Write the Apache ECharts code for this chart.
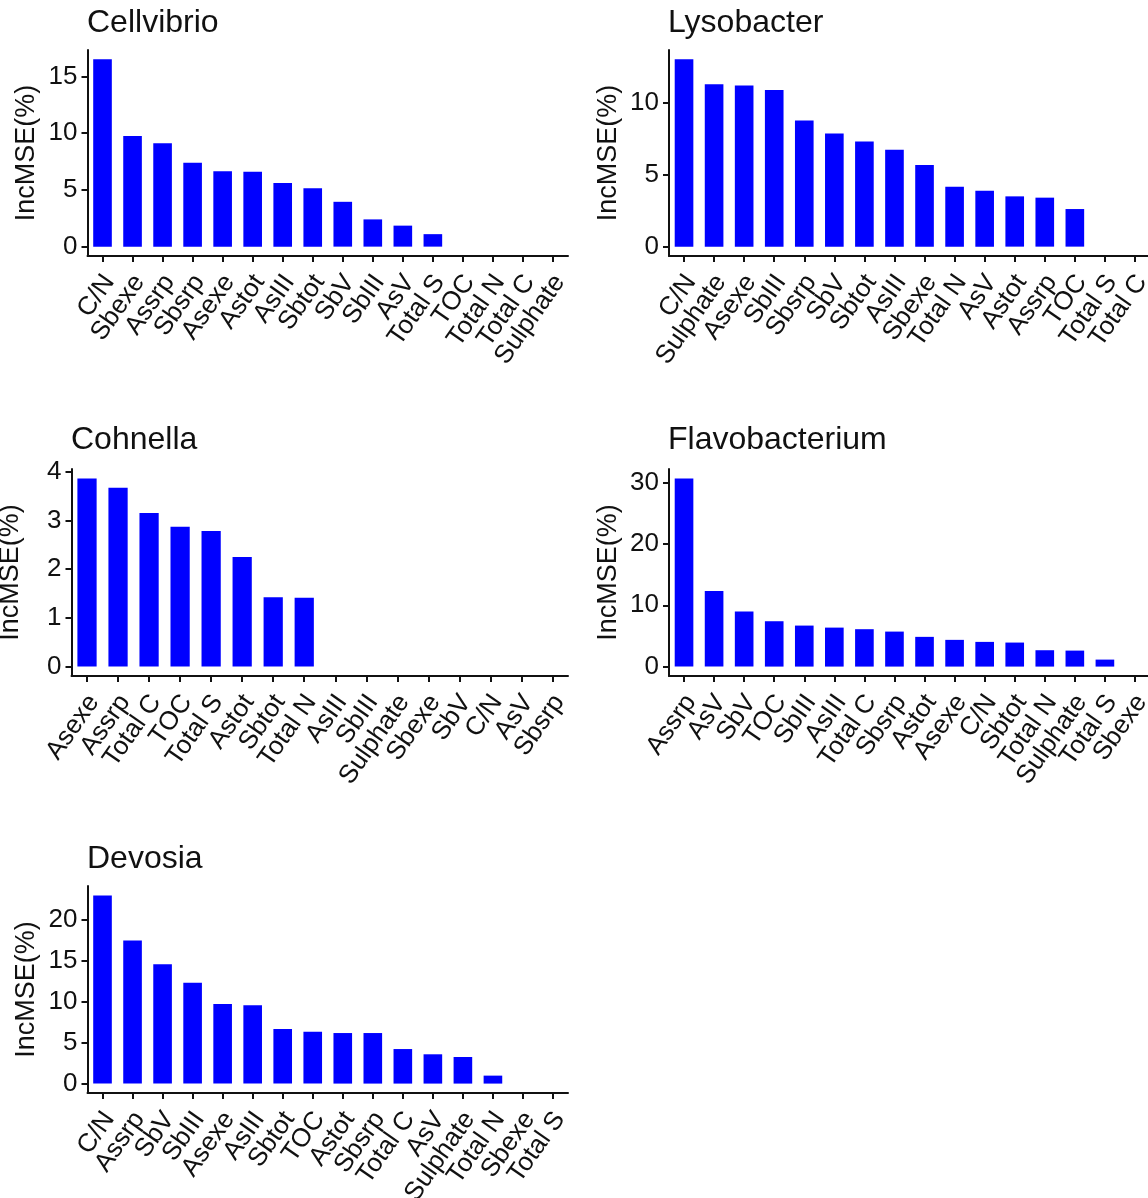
<!DOCTYPE html>
<html>
<head>
<meta charset="utf-8">
<script src="https://cdn.jsdelivr.net/npm/echarts@6/dist/echarts.min.js"></script>
<style>
  html, body { margin: 0; padding: 0; background: #ffffff; }
  #chart { width: 1148px; height: 1198px; }
</style>
</head>
<body>
<div id="chart"></div>
<script>
// Variable importance (%IncMSE) of the random-forest models, one genus per panel.
const cellvibrioVars = ['C/N', 'Sbexe', 'Assrp', 'Sbsrp', 'Asexe', 'Astot', 'AsIII', 'Sbtot', 'SbV', 'SbIII', 'AsV', 'Total S', 'TOC', 'Total N', 'Total C', 'Sulphate'];
const cellvibrioIncMSE = [16.5, 9.75, 9.1, 7.4, 6.65, 6.6, 5.6, 5.15, 3.95, 2.4, 1.85, 1.1, 0, 0, 0, 0];

const lysobacterVars = ['C/N', 'Sulphate', 'Asexe', 'SbIII', 'Sbsrp', 'SbV', 'Sbtot', 'AsIII', 'Sbexe', 'Total N', 'AsV', 'Astot', 'Assrp', 'TOC', 'Total S', 'Total C'];
const lysobacterIncMSE = [13.0, 11.27, 11.18, 10.88, 8.76, 7.86, 7.3, 6.72, 5.66, 4.16, 3.88, 3.49, 3.4, 2.61, 0, 0];

const cohnellaVars = ['Asexe', 'Assrp', 'Total C', 'TOC', 'Total S', 'Astot', 'Sbtot', 'Total N', 'AsIII', 'SbIII', 'Sulphate', 'Sbexe', 'SbV', 'C/N', 'AsV', 'Sbsrp'];
const cohnellaIncMSE = [3.86, 3.67, 3.15, 2.87, 2.78, 2.25, 1.42, 1.41, 0, 0, 0, 0, 0, 0, 0, 0];

const flavobacteriumVars = ['Assrp', 'AsV', 'SbV', 'TOC', 'SbIII', 'AsIII', 'Total C', 'Sbsrp', 'Astot', 'Asexe', 'C/N', 'Sbtot', 'Total N', 'Sulphate', 'Total S', 'Sbexe'];
const flavobacteriumIncMSE = [30.7, 12.35, 8.97, 7.4, 6.69, 6.36, 6.1, 5.71, 4.85, 4.36, 4.03, 3.92, 2.67, 2.61, 1.14, 0];

const devosiaVars = ['C/N', 'Assrp', 'SbV', 'SbIII', 'Asexe', 'AsIII', 'Sbtot', 'TOC', 'Astot', 'Sbsrp', 'Total C', 'AsV', 'Sulphate', 'Total N', 'Sbexe', 'Total S'];
const devosiaIncMSE = [22.93, 17.45, 14.53, 12.3, 9.7, 9.54, 6.65, 6.33, 6.16, 6.16, 4.21, 3.57, 3.24, 0.97, 0, 0];

// Y-axis tick values per panel
const cellvibrioTicks = [0, 5, 10, 15];
const lysobacterTicks = [0, 5, 10];
const cohnellaTicks = [0, 1, 2, 3, 4];
const flavobacteriumTicks = [0, 10, 20, 30];
const devosiaTicks = [0, 5, 10, 15, 20];

const yName = 'IncMSE(%)';

// Panel contents
const panels = [
  { name: 'Cellvibrio', vars: cellvibrioVars, values: cellvibrioIncMSE, ticks: cellvibrioTicks },
  { name: 'Lysobacter', vars: lysobacterVars, values: lysobacterIncMSE, ticks: lysobacterTicks },
  { name: 'Cohnella', vars: cohnellaVars, values: cohnellaIncMSE, ticks: cohnellaTicks },
  { name: 'Flavobacterium', vars: flavobacteriumVars, values: flavobacteriumIncMSE, ticks: flavobacteriumTicks },
  { name: 'Devosia', vars: devosiaVars, values: devosiaIncMSE, ticks: devosiaTicks }
];

// Panel placement on the page (plot area boxes and title anchors)
const layout = [
  { left: 87.5, top: 50, width: 480.5, height: 206, titleLeft: 87, titleTop: 7 },
  { left: 669, top: 50, width: 481, height: 206, titleLeft: 668, titleTop: 7 },
  { left: 71.5, top: 469, width: 496.5, height: 207, titleLeft: 71, titleTop: 424 },
  { left: 669, top: 469, width: 481, height: 207, titleLeft: 668, titleTop: 424 },
  { left: 87.5, top: 886, width: 480.5, height: 207, titleLeft: 87, titleTop: 843 }
];

const FONT = 'Liberation Sans, Arial, Helvetica, sans-serif';
const INK = '#111111';
const BAR = '#0000ff';

const grids = [], xAxes = [], yAxes = [], series = [], titles = [];

panels.forEach((p, k) => {
  const box = layout[k];
  const top = Math.max.apply(null, p.values);

  grids.push({
    left: box.left, top: box.top, width: box.width, height: box.height,
    containLabel: false,
    outerBoundsMode: 'none'
  });

  titles.push({
    text: p.name,
    left: box.titleLeft,
    top: box.titleTop,
    padding: 0,
    textStyle: { fontFamily: FONT, fontSize: 32, fontWeight: 'normal', color: INK }
  });

  xAxes.push({
    gridIndex: k,
    type: 'category',
    data: p.vars,
    boundaryGap: true,
    axisLine: { show: true, onZero: false, lineStyle: { color: INK, width: 2 } },
    axisTick: { show: true, alignWithLabel: true, interval: 0, length: 6, lineStyle: { color: INK, width: 2 } },
    axisLabel: {
      interval: 0,
      showMinLabel: true,
      showMaxLabel: true,
      rotate: 55,
      margin: 17,
      fontFamily: FONT,
      fontSize: 26,
      color: INK,
      // tall line box with the text sitting at its bottom: the rotated
      // label hangs below and to the right of its tick
      formatter: v => '{v|' + v + '}',
      rich: {
        v: { fontFamily: FONT, fontSize: 26, color: INK, lineHeight: 42, verticalAlign: 'bottom' }
      }
    }
  });

  yAxes.push({
    gridIndex: k,
    type: 'value',
    min: -0.05 * top,
    max: 1.05 * top,
    name: yName,
    nameLocation: 'middle',
    nameRotate: 90,
    nameGap: 47,
    nameTextStyle: { fontFamily: FONT, fontSize: 27, color: INK },
    splitLine: { show: false },
    axisLine: { show: true, onZero: false, lineStyle: { color: INK, width: 2 } },
    axisTick: { show: true, length: 6, customValues: p.ticks, lineStyle: { color: INK, width: 2 } },
    axisLabel: {
      customValues: p.ticks,
      margin: 10,
      fontFamily: FONT,
      fontSize: 26,
      color: INK
    }
  });

  series.push({
    type: 'bar',
    xAxisIndex: k,
    yAxisIndex: k,
    barWidth: '62%',
    itemStyle: { color: BAR },
    silent: true,
    data: p.values
  });
});

const chart = echarts.init(document.getElementById('chart'), null, { renderer: 'canvas' });
chart.setOption({
  animation: false,
  backgroundColor: '#ffffff',
  title: titles,
  grid: grids,
  xAxis: xAxes,
  yAxis: yAxes,
  series: series
});
</script>
</body>
</html>
